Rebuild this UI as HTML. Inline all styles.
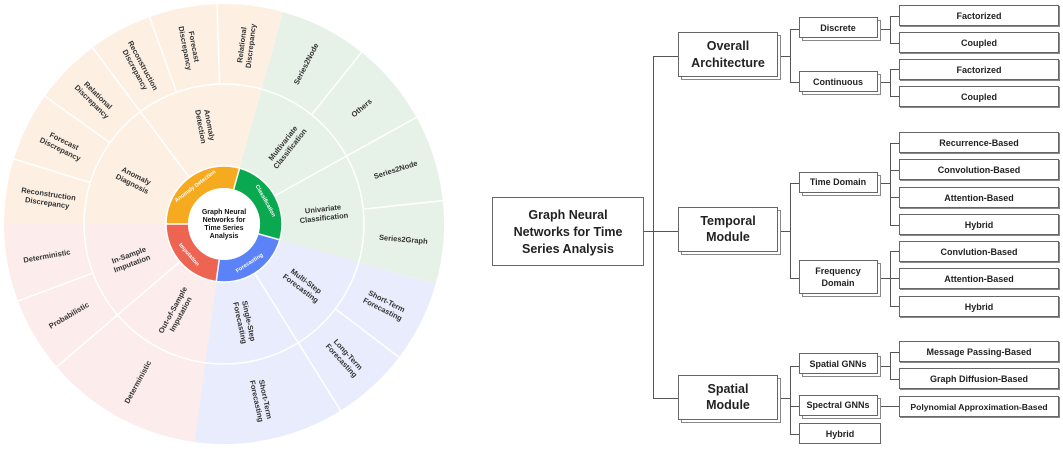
<!DOCTYPE html>
<html><head><meta charset="utf-8"><style>
html,body{margin:0;padding:0;background:#fff;width:1063px;height:449px;overflow:hidden}
svg{display:block}
.t{font-family:"Liberation Sans","DejaVu Sans",sans-serif;font-weight:bold;fill:#333;font-size:7.5px}
.w{fill:#fff;font-size:5.5px}
.b{fill:#fff;stroke:#666;stroke-width:1}
.s{fill:#fff;stroke:#888;stroke-width:1}
.tr{font-family:"Liberation Sans","DejaVu Sans",sans-serif;font-weight:bold;fill:#222;text-anchor:middle;dominant-baseline:central}
</style></head><body>
<svg width="1063" height="449" viewBox="0 0 1063 449" xmlns="http://www.w3.org/2000/svg">
<g transform="translate(224,224)">
 <g fill="none" stroke-width="162">
  <circle r="139" pathLength="360" stroke="#FDF0E3" stroke-dasharray="105.6 400" transform="rotate(180)"/>
  <circle r="139" pathLength="360" stroke="#E6F1E7" stroke-dasharray="90.3 400" transform="rotate(-74.4)"/>
  <circle r="139" pathLength="360" stroke="#E9ECFC" stroke-dasharray="81.8 400" transform="rotate(15.9)"/>
  <circle r="139" pathLength="360" stroke="#FCECEC" stroke-dasharray="82.3 400" transform="rotate(97.7)"/>
 </g>
 <g fill="none" stroke-width="22">
  <circle r="47" pathLength="360" stroke="#F5AA1F" stroke-dasharray="105.6 400" transform="rotate(180)"/>
  <circle r="47" pathLength="360" stroke="#0AA84F" stroke-dasharray="90.3 400" transform="rotate(-74.4)"/>
  <circle r="47" pathLength="360" stroke="#5B82F6" stroke-dasharray="81.8 400" transform="rotate(15.9)"/>
  <circle r="47" pathLength="360" stroke="#EE6452" stroke-dasharray="82.3 400" transform="rotate(97.7)"/>
 </g>
 <circle r="36" fill="#fff"/>
 <g stroke="#fff" stroke-width="1.5" fill="none">
  <circle r="58"/>
  <circle r="140"/>
  <line x1="36" x2="58" transform="rotate(180)"/>
  <line x1="36" x2="58" transform="rotate(-74.4)"/>
  <line x1="36" x2="58" transform="rotate(15.9)"/>
  <line x1="36" x2="58" transform="rotate(97.7)"/>
  <line x1="58" x2="221" transform="rotate(233.3)"/>
  <line x1="58" x2="221" transform="rotate(-29)"/>
  <line x1="58" x2="221" transform="rotate(58)"/>
  <line x1="58" x2="221" transform="rotate(139.5)"/>
  <line x1="140" x2="221" transform="rotate(197.2)"/>
  <line x1="140" x2="221" transform="rotate(215.5)"/>
  <line x1="140" x2="221" transform="rotate(250.2)"/>
  <line x1="140" x2="221" transform="rotate(268.2)"/>
  <line x1="140" x2="221" transform="rotate(-51.3)"/>
  <line x1="140" x2="221" transform="rotate(-6.1)"/>
  <line x1="140" x2="221" transform="rotate(37.3)"/>
  <line x1="140" x2="221" transform="rotate(159.5)"/>
 </g>
 <text class="t" text-anchor="middle" style="font-size:7px;fill:#111"><tspan x="0" y="-10">Graph Neural</tspan><tspan x="0" y="-2">Networks for</tspan><tspan x="0" y="6">Time Series</tspan><tspan x="0" y="14">Analysis</tspan></text>
 <g class="t w" text-anchor="middle" dominant-baseline="central">
  <text transform="rotate(232.8) translate(47,0) rotate(90)">Anomaly Detection</text>
  <text transform="rotate(-29.25) translate(47,0) rotate(90)">Classification</text>
  <text transform="rotate(56.8) translate(47,0) rotate(-90)">Forecasting</text>
  <text transform="rotate(138.85) translate(47,0) rotate(-90)">Imputation</text>
 </g>
 <g class="t" text-anchor="middle" dominant-baseline="central">
  <text transform="rotate(206.6) translate(100,0) rotate(180)"><tspan x="0" y="-4.3">Anomaly</tspan><tspan x="0" y="4.7">Diagnosis</tspan></text>
  <text transform="rotate(259.5) translate(100,0) rotate(180)"><tspan x="0" y="-4.3">Anomaly</tspan><tspan x="0" y="4.7">Detection</tspan></text>
  <text transform="rotate(-51.7) translate(100,0)"><tspan x="0" y="-4.3">Multivariate</tspan><tspan x="0" y="4.7">Classification</tspan></text>
  <text transform="rotate(-6.5) translate(100,0)"><tspan x="0" y="-4.3">Univariate</tspan><tspan x="0" y="4.7">Classification</tspan></text>
  <text transform="rotate(37) translate(100,0)"><tspan x="0" y="-4.3">Multi-Step</tspan><tspan x="0" y="4.7">Forecasting</tspan></text>
  <text transform="rotate(77.8) translate(100,0)"><tspan x="0" y="-4.3">Single-Step</tspan><tspan x="0" y="4.7">Forecasting</tspan></text>
  <text transform="rotate(118.6) translate(100,0) rotate(180)"><tspan x="0" y="-4.3">Out-of-Sample</tspan><tspan x="0" y="4.7">Imputation</tspan></text>
  <text transform="rotate(159.75) translate(100,0) rotate(180)"><tspan x="0" y="-4.3">In-Sample</tspan><tspan x="0" y="4.7">Imputation</tspan></text>
 </g>
 <g class="t" text-anchor="middle" dominant-baseline="central">
  <text transform="rotate(188.5) translate(178,0) rotate(180)"><tspan x="0" y="-4.3">Reconstruction</tspan><tspan x="0" y="4.7">Discrepancy</tspan></text>
  <text transform="rotate(206.2) translate(180,0) rotate(180)"><tspan x="0" y="-4.3">Forecast</tspan><tspan x="0" y="4.7">Discrepancy</tspan></text>
  <text transform="rotate(224.4) translate(180,0) rotate(180)"><tspan x="0" y="-4.3">Relational</tspan><tspan x="0" y="4.7">Discrepancy</tspan></text>
  <text transform="rotate(241.7) translate(178,0) rotate(180)"><tspan x="0" y="-4.3">Reconstruction</tspan><tspan x="0" y="4.7">Discrepancy</tspan></text>
  <text transform="rotate(259.2) translate(180,0) rotate(180)"><tspan x="0" y="-4.3">Forecast</tspan><tspan x="0" y="4.7">Discrepancy</tspan></text>
  <text transform="rotate(276.9) translate(180,0)"><tspan x="0" y="-4.3">Relational</tspan><tspan x="0" y="4.7">Discrepancy</tspan></text>
  <text transform="rotate(-62.85) translate(180,0)">Series2Node</text>
  <text transform="rotate(-40.15) translate(180,0)">Others</text>
  <text transform="rotate(-17.55) translate(180,0)">Series2Node</text>
  <text transform="rotate(4.9) translate(180,0)">Series2Graph</text>
  <text transform="rotate(26.6) translate(180,0)"><tspan x="0" y="-4.3">Short-Term</tspan><tspan x="0" y="4.7">Forecasting</tspan></text>
  <text transform="rotate(47.65) translate(180,0)"><tspan x="0" y="-4.3">Long-Term</tspan><tspan x="0" y="4.7">Forecasting</tspan></text>
  <text transform="rotate(77.9) translate(180,0)"><tspan x="0" y="-4.3">Short-Term</tspan><tspan x="0" y="4.7">Forecasting</tspan></text>
  <text transform="rotate(118.6) translate(180,0) rotate(180)">Deterministic</text>
  <text transform="rotate(149.5) translate(180,0) rotate(180)">Probabilistic</text>
  <text transform="rotate(169.75) translate(180,0) rotate(180)">Deterministic</text>
 </g>
</g>

<g stroke="#555" stroke-width="1" fill="none" shape-rendering="crispEdges">
 <line x1="644" y1="231.5" x2="678" y2="231.5"/>
 <line x1="653.5" y1="56" x2="653.5" y2="399"/>
 <line x1="653" y1="56.5" x2="678" y2="56.5"/>
 <line x1="653" y1="398.5" x2="678" y2="398.5"/>
 <line x1="781" y1="56.5" x2="790" y2="56.5"/>
 <line x1="790.5" y1="29" x2="790.5" y2="82"/>
 <line x1="790" y1="29.5" x2="799" y2="29.5"/>
 <line x1="790" y1="82.5" x2="799" y2="82.5"/>
 <line x1="781" y1="231.5" x2="790" y2="231.5"/>
 <line x1="790.5" y1="183" x2="790.5" y2="278"/>
 <line x1="790" y1="183.5" x2="799" y2="183.5"/>
 <line x1="790" y1="278.5" x2="799" y2="278.5"/>
 <line x1="781" y1="398.5" x2="790" y2="398.5"/>
 <line x1="790.5" y1="366" x2="790.5" y2="434"/>
 <line x1="790" y1="366.5" x2="799" y2="366.5"/>
 <line x1="790" y1="406.5" x2="799" y2="406.5"/>
 <line x1="790" y1="434.5" x2="799" y2="434.5"/>
 <line x1="881" y1="29.5" x2="890" y2="29.5"/>
 <line x1="890.5" y1="16" x2="890.5" y2="43"/>
 <line x1="890" y1="16.5" x2="899" y2="16.5"/>
 <line x1="890" y1="43.5" x2="899" y2="43.5"/>
 <line x1="881" y1="82.5" x2="890" y2="82.5"/>
 <line x1="890.5" y1="69" x2="890.5" y2="96"/>
 <line x1="890" y1="69.5" x2="899" y2="69.5"/>
 <line x1="890" y1="96.5" x2="899" y2="96.5"/>
 <line x1="881" y1="183.5" x2="890" y2="183.5"/>
 <line x1="890.5" y1="143" x2="890.5" y2="225"/>
 <line x1="890" y1="143.5" x2="899" y2="143.5"/>
 <line x1="890" y1="170.5" x2="899" y2="170.5"/>
 <line x1="890" y1="197.5" x2="899" y2="197.5"/>
 <line x1="890" y1="225.5" x2="899" y2="225.5"/>
 <line x1="881" y1="278.5" x2="890" y2="278.5"/>
 <line x1="890.5" y1="251" x2="890.5" y2="306"/>
 <line x1="890" y1="251.5" x2="899" y2="251.5"/>
 <line x1="890" y1="278.5" x2="899" y2="278.5"/>
 <line x1="890" y1="306.5" x2="899" y2="306.5"/>
 <line x1="881" y1="366.5" x2="890" y2="366.5"/>
 <line x1="890.5" y1="352" x2="890.5" y2="379"/>
 <line x1="890" y1="352.5" x2="899" y2="352.5"/>
 <line x1="890" y1="379.5" x2="899" y2="379.5"/>
 <line x1="881" y1="406.5" x2="899" y2="406.5"/>
</g>

<g shape-rendering="crispEdges">
 <rect class="b" x="492.5" y="197.5" width="151" height="68"/>
 <rect class="s" x="681.5" y="35.5" width="99" height="44"/><rect class="b" x="678.5" y="32.5" width="99" height="44"/>
 <rect class="s" x="681.5" y="210.5" width="99" height="44"/><rect class="b" x="678.5" y="207.5" width="99" height="44"/>
 <rect class="s" x="681.5" y="378.5" width="99" height="44"/><rect class="b" x="678.5" y="375.5" width="99" height="44"/>
 <rect class="s" x="802.5" y="20.5" width="78" height="20"/><rect class="b" x="799.5" y="17.5" width="78" height="20"/>
 <rect class="s" x="802.5" y="74.5" width="78" height="20"/><rect class="b" x="799.5" y="71.5" width="78" height="20"/>
 <rect class="s" x="802.5" y="175.5" width="78" height="20"/><rect class="b" x="799.5" y="172.5" width="78" height="20"/>
 <rect class="s" x="802.5" y="263.5" width="78" height="33"/><rect class="b" x="799.5" y="260.5" width="78" height="33"/>
 <rect class="s" x="802.5" y="356.5" width="78" height="20"/><rect class="b" x="799.5" y="353.5" width="78" height="20"/>
 <rect class="s" x="802.5" y="398.5" width="78" height="20"/><rect class="b" x="799.5" y="395.5" width="78" height="20"/>
 <rect class="b" x="799.5" y="423.5" width="81" height="20"/>
 <rect class="s" x="900.5" y="6.5" width="159" height="20"/><rect class="b" x="899.5" y="5.5" width="159" height="20"/>
 <rect class="s" x="900.5" y="33.5" width="159" height="20"/><rect class="b" x="899.5" y="32.5" width="159" height="20"/>
 <rect class="s" x="900.5" y="60.5" width="159" height="20"/><rect class="b" x="899.5" y="59.5" width="159" height="20"/>
 <rect class="s" x="900.5" y="87.5" width="159" height="20"/><rect class="b" x="899.5" y="86.5" width="159" height="20"/>
 <rect class="s" x="900.5" y="133.5" width="159" height="20"/><rect class="b" x="899.5" y="132.5" width="159" height="20"/>
 <rect class="s" x="900.5" y="160.5" width="159" height="20"/><rect class="b" x="899.5" y="159.5" width="159" height="20"/>
 <rect class="s" x="900.5" y="188.5" width="159" height="20"/><rect class="b" x="899.5" y="187.5" width="159" height="20"/>
 <rect class="s" x="900.5" y="215.5" width="159" height="20"/><rect class="b" x="899.5" y="214.5" width="159" height="20"/>
 <rect class="s" x="900.5" y="242.5" width="159" height="20"/><rect class="b" x="899.5" y="241.5" width="159" height="20"/>
 <rect class="s" x="900.5" y="269.5" width="159" height="20"/><rect class="b" x="899.5" y="268.5" width="159" height="20"/>
 <rect class="s" x="900.5" y="297.5" width="159" height="20"/><rect class="b" x="899.5" y="296.5" width="159" height="20"/>
 <rect class="s" x="900.5" y="342.5" width="159" height="20"/><rect class="b" x="899.5" y="341.5" width="159" height="20"/>
 <rect class="s" x="900.5" y="369.5" width="159" height="20"/><rect class="b" x="899.5" y="368.5" width="159" height="20"/>
 <rect class="s" x="900.5" y="397.5" width="159" height="20"/><rect class="b" x="899.5" y="396.5" width="159" height="20"/>
</g>

<g class="tr" style="font-size:12.5px">
 <text x="568" y="215">Graph Neural</text>
 <text x="568" y="232">Networks for Time</text>
 <text x="568" y="249">Series Analysis</text>
 <text x="728" y="46">Overall</text><text x="728" y="63">Architecture</text>
 <text x="728" y="221">Temporal</text><text x="728" y="237">Module</text>
 <text x="728" y="389">Spatial</text><text x="728" y="405">Module</text>
</g>
<g class="tr" style="font-size:9px">
 <text x="838" y="28">Discrete</text>
 <text x="838" y="82">Continuous</text>
 <text x="838" y="182">Time Domain</text>
 <text x="838" y="271">Frequency</text><text x="838" y="283">Domain</text>
 <text x="838" y="364">Spatial GNNs</text>
 <text x="838" y="405">Spectral GNNs</text>
 <text x="840" y="434">Hybrid</text>
 <text x="979" y="16">Factorized</text>
 <text x="979" y="43">Coupled</text>
 <text x="979" y="70">Factorized</text>
 <text x="979" y="97">Coupled</text>
 <text x="979" y="143">Recurrence-Based</text>
 <text x="979" y="170">Convolution-Based</text>
 <text x="979" y="198">Attention-Based</text>
 <text x="979" y="225">Hybrid</text>
 <text x="979" y="252">Convlution-Based</text>
 <text x="979" y="279">Attention-Based</text>
 <text x="979" y="307">Hybrid</text>
 <text x="979" y="352">Message Passing-Based</text>
 <text x="979" y="379">Graph Diffusion-Based</text>
 <text x="979" y="407" style="font-size:8.6px">Polynomial Approximation-Based</text>
</g>
</svg>
</body></html>
